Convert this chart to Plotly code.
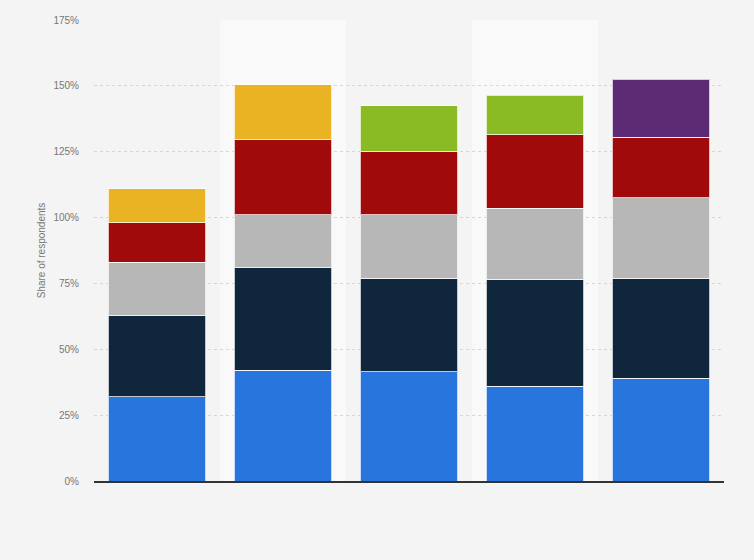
import plotly.graph_objects as go

categories = ["1", "2", "3", "4", "5"]
tick_vals = [0, 25, 50, 75, 100, 125, 150, 175]
tick_text = ["0%", "25%", "50%", "75%", "100%", "125%", "150%", "175%"]

series_blue = [32, 42, 41.5, 36, 39]
series_navy = [31, 39, 35.5, 40.5, 38]
series_gray = [20, 20, 24, 27, 30.5]
series_red = [15, 28.5, 24, 28, 23]
series_yellow = [13, 21, None, None, None]
series_green = [None, None, 17.5, 15, None]
series_purple = [None, None, None, None, 22]

series = [
    ("Series 1", series_blue, "#2876dd"),
    ("Series 2", series_navy, "#0f263c"),
    ("Series 3", series_gray, "#b7b7b7"),
    ("Series 4", series_red, "#a10a0a"),
    ("Series 5", series_yellow, "#e9b323"),
    ("Series 6", series_green, "#8aba24"),
    ("Series 7", series_purple, "#5d2a74"),
]

fig = go.Figure()
for name, vals, col in series:
    fig.add_trace(go.Bar(
        x=categories, y=vals, name=name,
        marker=dict(color=col, line=dict(color="rgba(255,255,255,0.75)", width=1)),
        hovertemplate="%{y}%<extra>" + name + "</extra>",
    ))

shapes = []
for i in (1, 3):
    shapes.append(dict(type="rect", xref="x", yref="y", x0=i - 0.5, x1=i + 0.5,
                       y0=0, y1=175, fillcolor="#f9f9f9", line=dict(width=0), layer="below"))

fig.update_layout(
    barmode="stack",
    bargap=0.23,
    width=754, height=560,
    margin=dict(l=94, r=30, t=20, b=79),
    paper_bgcolor="#f4f4f4",
    plot_bgcolor="#f4f4f4",
    showlegend=False,
    shapes=shapes,
    font=dict(family="Liberation Sans, Arial, sans-serif", size=10, color="#777777"),
    xaxis=dict(showticklabels=False, showgrid=False, showline=True,
               linecolor="#333333", linewidth=1.5, ticks="", range=[-0.5, 4.5]),
    yaxis=dict(range=[0, 175], tickvals=tick_vals, ticktext=tick_text,
               showgrid=True, gridcolor="#d6d6d6", griddash="dot", gridwidth=1,
               zeroline=False, ticklabelstandoff=14,
               title=dict(text="Share of respondents", standoff=5,
                          font=dict(size=10, color="#777777"))),
)

fig.write_html("out.html", config={"displayModeBar": False},
               post_script="document.body.style.margin='0';document.body.style.background='#f4f4f4';")
